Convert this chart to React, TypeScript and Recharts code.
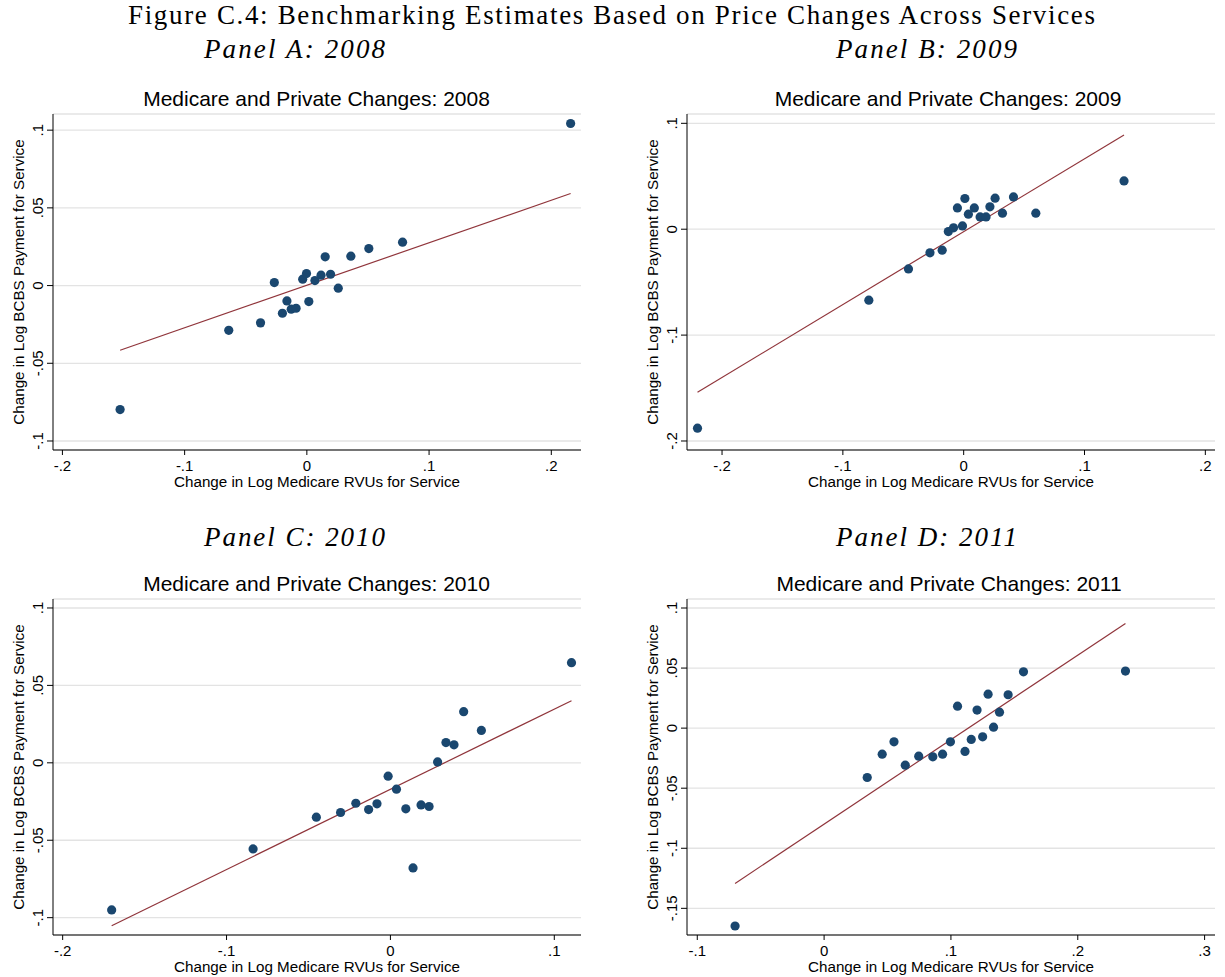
import React from 'react';
import {
  CartesianGrid,
  ReferenceLine,
  Scatter,
  ScatterChart,
  XAxis,
  YAxis,
} from 'recharts';

// Change in log Medicare RVUs (x) and log BCBS payment (y), one pair per service.
const medicare2008 = [-0.1528, -0.0639, -0.0379, -0.0266, -0.02, -0.0163, -0.0128, -0.0088, -0.0034, -0.0003, 0.0016, 0.0066, 0.0116, 0.015, 0.0194, 0.0257, 0.036, 0.0507, 0.0783, 0.2158];
const bcbs2008 = [-0.0798, -0.0288, -0.024, 0.0019, -0.0178, -0.0099, -0.0152, -0.0146, 0.0041, 0.0077, -0.0103, 0.0032, 0.0067, 0.0185, 0.0073, -0.0017, 0.0189, 0.0238, 0.0279, 0.1043];

const medicare2009 = [-0.2203, -0.0785, -0.0457, -0.0279, -0.0178, -0.0127, -0.0084, -0.0052, -0.001, 0.001, 0.0039, 0.0088, 0.0136, 0.0185, 0.0217, 0.026, 0.0321, 0.0412, 0.0597, 0.1327];
const bcbs2009 = [-0.1879, -0.067, -0.0375, -0.0223, -0.0198, -0.0022, 0.0013, 0.0201, 0.0031, 0.029, 0.0142, 0.0201, 0.0116, 0.0116, 0.0211, 0.0293, 0.0151, 0.0305, 0.0151, 0.0456];

const medicare2010 = [-0.1701, -0.0838, -0.0452, -0.0304, -0.0211, -0.0133, -0.0082, -0.0014, 0.0037, 0.0094, 0.0138, 0.0187, 0.0236, 0.0288, 0.0339, 0.0388, 0.0447, 0.0555, 0.1105];
const bcbs2010 = [-0.095, -0.0556, -0.0351, -0.0321, -0.0261, -0.0302, -0.0265, -0.0086, -0.017, -0.0297, -0.0679, -0.0272, -0.0282, 0.0006, 0.0131, 0.0116, 0.033, 0.0209, 0.0647];

const medicare2011 = [-0.0702, 0.034, 0.0458, 0.0551, 0.064, 0.0746, 0.0857, 0.0934, 0.0996, 0.1052, 0.1111, 0.116, 0.1206, 0.125, 0.1293, 0.1336, 0.1383, 0.1451, 0.1572, 0.2376];
const bcbs2011 = [-0.1647, -0.0411, -0.0217, -0.0114, -0.0308, -0.0233, -0.0239, -0.0217, -0.0114, 0.0183, -0.0194, -0.0094, 0.015, -0.0072, 0.0283, 0.0008, 0.0133, 0.0278, 0.0469, 0.0475];

// Linear fits: [intercept, slope]
const fit2008 = [0.0002, 0.2735];
const fit2009 = [-0.0023, 0.6884];
const fit2010 = [-0.0171, 0.5178];
const fit2011 = [-0.0799, 0.7031];

const xTicks2008 = [-0.2, -0.1, 0, 0.1, 0.2];
const yTicks2008 = [-0.1, -0.05, 0, 0.05, 0.1];
const xTicks2009 = [-0.2, -0.1, 0, 0.1, 0.2];
const yTicks2009 = [-0.2, -0.1, 0, 0.1];
const xTicks2010 = [-0.2, -0.1, 0, 0.1];
const yTicks2010 = [-0.1, -0.05, 0, 0.05, 0.1];
const xTicks2011 = [-0.1, 0, 0.1, 0.2, 0.3];
const yTicks2011 = [-0.15, -0.1, -0.05, 0, 0.05, 0.1];

const NAVY = '#1a476f';
const MAROON = '#90353b';
const SANS = '"Liberation Sans", Arial, sans-serif';
const SERIF = '"Liberation Serif", "Times New Roman", serif';

// Stata-style labels: ".05", "-.1", "0"
function fmt(v: number): string {
  if (v === 0) return '0';
  return String(v).replace(/^(-?)0\./, '$1.');
}

const YTick = (props: any) => {
  const { x, y, payload } = props;
  return (
    <text
      x={x + 1}
      y={y}
      transform={`rotate(-90 ${x + 1} ${y})`}
      textAnchor="middle"
      fontSize={15}
      fontFamily={SANS}
      fill="#000"
    >
      {fmt(payload.value)}
    </text>
  );
};

const XTick = (props: any) => {
  const { x, y, payload } = props;
  return (
    <text x={x} y={y} dy="0.71em" textAnchor="middle" fontSize={15} fontFamily={SANS} fill="#000">
      {fmt(payload.value)}
    </text>
  );
};

const YTitle = (props: any) => {
  const { viewBox } = props;
  const x = viewBox.x + 23.5;
  const y = viewBox.y + viewBox.height / 2;
  return (
    <text x={x} y={y} transform={`rotate(-90 ${x} ${y})`} textAnchor="middle" fontSize={15.2} fontFamily={SANS} fill="#000">
      Change in Log BCBS Payment for Service
    </text>
  );
};

const XTitle = (props: any) => {
  const { viewBox } = props;
  return (
    <text x={viewBox.x + viewBox.width / 2} y={viewBox.y + 37} textAnchor="middle" fontSize={15.2} fontFamily={SANS} fill="#000">
      Change in Log Medicare RVUs for Service
    </text>
  );
};

const Dot = (props: any) => <circle cx={props.cx} cy={props.cy} r={4.6} fill={NAVY} />;

interface PanelProps {
  xs: number[];
  ys: number[];
  fit: number[];
  xTicks: number[];
  yTicks: number[];
  xDomain: [number, number];
  yDomain: [number, number];
  left: number;
  top: number;
  width: number;
  rightMargin: number;
}

function Panel({ xs, ys, fit, xTicks, yTicks, xDomain, yDomain, left, top, width, rightMargin }: PanelProps) {
  const points = xs.map((x, i) => ({ x, y: ys[i] }));
  const x0 = Math.min(...xs);
  const x1 = Math.max(...xs);
  const [a, b] = fit;
  return (
    <div style={{ position: 'absolute', left, top }}>
      <ScatterChart width={width} height={422} margin={{ top: 44, right: rightMargin, bottom: 0, left: 0 }}>
        <CartesianGrid vertical={false} stroke="#e3e3e3" strokeWidth={1.3} />
        <XAxis
          type="number"
          dataKey="x"
          domain={xDomain}
          ticks={xTicks}
          allowDataOverflow
          height={42}
          tick={<XTick />}
          tickSize={5}
          tickMargin={5}
          axisLine={{ stroke: '#000' }}
          tickLine={{ stroke: '#000' }}
          label={<XTitle />}
        />
        <YAxis
          type="number"
          dataKey="y"
          domain={yDomain}
          ticks={yTicks}
          allowDataOverflow
          width={53}
          tick={<YTick />}
          tickSize={6}
          tickMargin={5}
          axisLine={{ stroke: '#000' }}
          tickLine={{ stroke: '#000' }}
          label={<YTitle />}
        />
        <ReferenceLine
          segment={[
            { x: x0, y: a + b * x0 },
            { x: x1, y: a + b * x1 },
          ]}
          stroke={MAROON}
          strokeWidth={1.2}
          ifOverflow="visible"
        />
        <Scatter data={points} shape={<Dot />} isAnimationActive={false} />
      </ScatterChart>
    </div>
  );
}

const subtitle = { fontSize: 27, fontStyle: 'italic', fontFamily: SERIF } as const;

export default function App() {
  return (
    <div style={{ position: 'absolute', left: 0, top: 0, width: 1225, height: 977, background: '#fff' }}>
      <svg width={1225} height={977} style={{ position: 'absolute', left: 0, top: 0 }}>
        <text x={611.5} y={24} textAnchor="middle" fontSize={27} fontFamily={SERIF} textLength={967} lengthAdjust="spacing">
          Figure C.4: Benchmarking Estimates Based on Price Changes Across Services
        </text>
        <text x={294.5} y={58} textAnchor="middle" {...subtitle} textLength={181} lengthAdjust="spacing">
          Panel A: 2008
        </text>
        <text x={926.5} y={58} textAnchor="middle" {...subtitle} textLength={181} lengthAdjust="spacing">
          Panel B: 2009
        </text>
        <text x={294.5} y={546} textAnchor="middle" {...subtitle} textLength={181} lengthAdjust="spacing">
          Panel C: 2010
        </text>
        <text x={926.5} y={546} textAnchor="middle" {...subtitle} textLength={181} lengthAdjust="spacing">
          Panel D: 2011
        </text>
        <text x={316.5} y={106} textAnchor="middle" fontSize={21} fontFamily={SANS}>Medicare and Private Changes: 2008</text>
        <text x={948} y={106} textAnchor="middle" fontSize={21} fontFamily={SANS}>Medicare and Private Changes: 2009</text>
        <text x={316.5} y={591} textAnchor="middle" fontSize={21} fontFamily={SANS}>Medicare and Private Changes: 2010</text>
        <text x={949} y={591} textAnchor="middle" fontSize={21} fontFamily={SANS}>Medicare and Private Changes: 2011</text>
      </svg>
      <Panel xs={medicare2008} ys={bcbs2008} fit={fit2008} xTicks={xTicks2008} yTicks={yTicks2008}
        xDomain={[-0.2077, 0.2243]} yDomain={[-0.1058, 0.1104]} left={0} top={70} width={600} rightMargin={19} />
      <Panel xs={medicare2009} ys={bcbs2009} fit={fit2009} xTicks={xTicks2009} yTicks={yTicks2009}
        xDomain={[-0.229, 0.208]} yDomain={[-0.2085, 0.1088]} left={634} top={70} width={591} rightMargin={10} />
      <Panel xs={medicare2010} ys={bcbs2010} fit={fit2010} xTicks={xTicks2010} yTicks={yTicks2010}
        xDomain={[-0.2059, 0.1163]} yDomain={[-0.1112, 0.1058]} left={0} top={555} width={600} rightMargin={19} />
      <Panel xs={medicare2011} ys={bcbs2011} fit={fit2011} xTicks={xTicks2011} yTicks={yTicks2011}
        xDomain={[-0.1081, 0.3082]} yDomain={[-0.1722, 0.1075]} left={634} top={555} width={591} rightMargin={10} />
    </div>
  );
}
